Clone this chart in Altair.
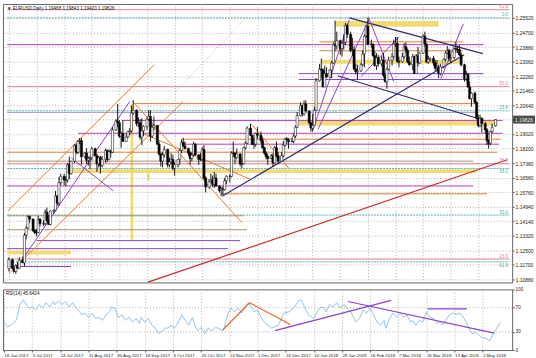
import altair as alt
import pandas as pd

# ---------------- candle data: price = 1 + v/10000 ----------------
jun_o = [1148,1198,1150,1132,1165,1150,1195,1180,1335,1375,1440]
jun_h = [1212,1206,1162,1172,1186,1212,1216,1348,1388,1446,1446]
jun_l = [1132,1145,1131,1119,1149,1148,1180,1162,1312,1370,1405]
jun_c = [1198,1150,1132,1165,1150,1195,1180,1335,1375,1440,1425]

jul_o = [1425,1360,1350,1350,1425,1400,1400,1465,1415,1395,1470,1475,1555,1515,1630,1665,1645,1645,1730,1680,1750]
jul_h = [1430,1368,1370,1444,1430,1420,1480,1490,1450,1475,1480,1583,1560,1660,1680,1680,1665,1740,1775,1750,1845]
jul_l = [1355,1340,1330,1345,1385,1386,1390,1412,1393,1390,1455,1470,1500,1500,1615,1615,1610,1630,1650,1675,1740]
jul_c = [1360,1350,1350,1425,1400,1400,1465,1415,1395,1470,1475,1555,1515,1630,1665,1645,1645,1730,1680,1750,1840]

aug_o = [1840,1800,1860,1865,1775,1795,1755,1765,1770,1820,1780,1735,1770,1725,1760,1810,1760,1805,1800,1925,1975,1965,1890]
aug_h = [1848,1870,1880,1880,1800,1823,1775,1780,1830,1825,1790,1780,1780,1780,1820,1815,1815,1815,1940,1985,2070,1980,1915]
aug_l = [1790,1790,1845,1730,1765,1735,1725,1705,1755,1775,1690,1715,1680,1715,1740,1745,1755,1770,1795,1920,1940,1880,1825]
aug_c = [1800,1860,1865,1775,1795,1755,1765,1770,1820,1780,1735,1770,1725,1760,1810,1760,1805,1800,1925,1975,1965,1890,1905]

sep_o = [1905,1860,1885,1915,1920,2020,2035,1960,1965,1885,1920,1945,1985,2000,1890,1940,1950,1845,1790,1750,1785]
sep_h = [1980,1905,1920,1935,2060,2092,2040,1995,1985,1990,1950,1995,2035,2035,1955,2000,1950,1860,1795,1800,1835]
sep_l = [1860,1860,1880,1895,1910,2010,1945,1940,1870,1840,1890,1925,1975,1860,1880,1925,1840,1780,1720,1715,1770]
sep_c = [1860,1885,1915,1920,2020,2035,1960,1965,1885,1920,1945,1985,2000,1890,1940,1950,1845,1790,1750,1785,1815]

oct_o = [1815,1730,1745,1760,1710,1730,1760,1810,1855,1835,1820,1795,1765,1785,1845,1785,1760,1760,1815,1655,1605,1635]
oct_h = [1820,1770,1795,1785,1745,1760,1820,1870,1880,1860,1825,1805,1800,1860,1850,1790,1795,1830,1840,1665,1650,1680]
oct_l = [1715,1715,1735,1700,1670,1715,1730,1795,1830,1815,1780,1730,1750,1775,1780,1730,1750,1750,1645,1575,1595,1630]
oct_c = [1730,1745,1760,1710,1730,1760,1810,1855,1835,1820,1795,1765,1785,1845,1785,1760,1760,1815,1655,1605,1635,1645]

nov_o = [1645,1620,1655,1610,1585,1595,1590,1640,1665,1665,1795,1795,1770,1790,1735,1735,1825,1850,1935,1895,1845,1845]
nov_h = [1670,1690,1680,1615,1605,1610,1655,1670,1675,1805,1860,1800,1820,1795,1765,1830,1860,1945,1960,1895,1880,1910]
nov_l = [1605,1600,1610,1575,1553,1560,1585,1620,1630,1660,1775,1735,1760,1720,1710,1730,1815,1845,1890,1840,1820,1830]
nov_c = [1620,1655,1610,1585,1595,1590,1640,1665,1665,1795,1795,1770,1790,1735,1735,1825,1850,1935,1895,1845,1845,1905]

dec_o = [1905,1895,1865,1825,1795,1775,1765,1780,1740,1825,1780,1750,1780,1840,1875,1870,1860,1860,1890,1940]
dec_h = [1940,1915,1880,1830,1805,1790,1790,1795,1835,1860,1800,1800,1860,1880,1885,1880,1880,1905,1950,2025]
dec_l = [1875,1850,1820,1785,1760,1730,1760,1720,1735,1770,1735,1750,1770,1830,1845,1820,1855,1850,1880,1935]
dec_c = [1895,1865,1825,1795,1775,1765,1780,1740,1825,1780,1750,1780,1840,1875,1870,1860,1860,1890,1940,2005]

jan_o = [2005,2060,2015,2070,2030,1965,1935,1950,2035,2200,2265,2260,2165,2240,2220,2260,2300,2405,2395,2425,2380,2410]
jan_h = [2080,2065,2090,2090,2035,1970,2015,2055,2215,2295,2325,2270,2285,2275,2265,2310,2415,2537,2475,2430,2415,2460]
jan_l = [2000,2000,2005,2025,1955,1915,1915,1950,2030,2195,2215,2165,2165,2220,2220,2215,2295,2365,2375,2345,2335,2375]
jan_c = [2060,2015,2070,2030,1965,1935,1950,2035,2200,2265,2260,2165,2240,2220,2260,2300,2405,2395,2425,2380,2410,2415]

feb_o = [2415,2510,2460,2370,2375,2265,2250,2255,2290,2350,2450,2505,2405,2405,2340,2285,2330,2295,2315,2230]
feb_h = [2523,2520,2475,2440,2395,2295,2290,2300,2370,2460,2510,2555,2430,2410,2365,2355,2345,2340,2355,2245]
feb_l = [2400,2440,2360,2340,2260,2235,2205,2250,2280,2275,2440,2400,2385,2335,2280,2260,2280,2280,2220,2190]
feb_c = [2510,2460,2370,2375,2265,2250,2255,2290,2350,2450,2505,2405,2405,2340,2285,2330,2295,2315,2230,2195]

mar_o = [2195,2265,2315,2335,2405,2410,2310,2305,2335,2390,2370,2305,2290,2335,2240,2340,2300,2355,2450,2405,2305,2320]
mar_h = [2275,2335,2355,2430,2445,2445,2335,2355,2410,2415,2380,2335,2350,2340,2350,2390,2360,2460,2475,2410,2340,2330]
mar_l = [2155,2260,2285,2320,2390,2300,2275,2300,2320,2355,2300,2285,2260,2240,2240,2280,2295,2350,2390,2300,2295,2305]
mar_c = [2265,2315,2335,2405,2410,2310,2305,2335,2390,2370,2305,2290,2335,2240,2340,2300,2355,2450,2405,2305,2320,2325]

apr_o = [2325,2300,2270,2275,2240,2280,2320,2355,2370,2325,2330,2380,2375,2375,2345,2290,2210,2235,2165,2100,2130]
apr_h = [2340,2315,2315,2290,2295,2325,2365,2395,2380,2345,2385,2415,2395,2400,2360,2295,2255,2245,2195,2135,2140]
apr_l = [2285,2255,2255,2215,2230,2270,2310,2350,2310,2300,2320,2355,2355,2340,2280,2195,2200,2160,2095,2055,2070]
apr_c = [2300,2270,2275,2240,2280,2320,2355,2370,2325,2330,2380,2375,2375,2345,2290,2210,2235,2165,2100,2130,2080]

may_o = [2080,1990,1950,1990,1960,1925,1865,1850,1915,1947]
may_h = [2085,2010,2010,1995,1970,1935,1870,1920,1960,1984]
may_l = [1985,1940,1940,1910,1905,1840,1820,1840,1905,1942]
may_c = [1990,1950,1990,1960,1925,1865,1850,1915,1940,1983]

# RSI(14) readings (bar number, value)
rsi_bar = [0,2,4,7,9,11,12,14,16,18,20,22,24,26,28,29,31,33,35,37,39,41,43,44,46,48,50,52,54,56,58,60,61,63,65,67,
           69,71,73,75,77,78,80,82,84,86,88,90,92,93,95,97,99,101,103,105,107,109,110,112,114,116,118,120,122,124,125,
           127,129,131,133,135,137,139,141,142,144,146,148,150,
           152,156,159,162,165,167,169,171,173,176,178,180,182,183,185,187,189,191,193,195,197,199,200,202,204,206,208,
           210,212,214,216,217,219,221,223,225,227,229,231,232,234,236,238,240,242,244,246,248,249,251,253,255,257,259,
           261,263,264,266,268,270,272,274,276,278,280,282]
rsi_val = [46,38,41,49,75,83,78,69,71,66,75,69,78,71,80,75,81,75,80,71,78,69,63,58,61,54,61,52,54,49,58,63,71,69,54,58,
           49,54,46,52,44,54,46,52,41,36,27,32,37,36,41,36,46,58,49,41,54,37,32,37,27,36,32,37,36,32,36,
           58,69,63,69,61,71,78,69,63,66,54,46,41,
           36,41,61,63,71,80,83,69,58,52,63,71,69,63,75,71,78,69,75,69,63,52,46,52,66,61,69,
           58,46,41,49,36,52,61,54,61,54,58,46,49,41,49,46,63,54,52,44,46,41,49,58,61,58,
           61,54,44,36,27,29,24,20,19,15,27,36,45.6]

# date labels of the time axis
date_labels = ["16 Jun 2017","5 Jul 2017","24 Jul 2017","11 Aug 2017","30 Aug 2017","18 Sep 2017","6 Oct 2017",
               "25 Oct 2017","13 Nov 2017","1 Dec 2017","20 Dec 2017","10 Jan 2018","29 Jan 2018","16 Feb 2018",
               "7 Mar 2018","26 Mar 2018","13 Apr 2018","2 May 2018"]
price_ticks = [1.2552,1.2470,1.2388,1.2306,1.2226,1.2146,1.2064,1.1982,1.1902,1.1820,1.1738,1.1658,1.1576,
               1.1494,1.1414,1.1332,1.1250,1.1170,1.1088]
last_price = 1.19826

# Fibonacci levels
fib_pink = [1.2598, 1.2167, 1.1735, 1.1202]
fib_pink_txt = ["61.8", "50.0", "38.2", "23.6"]
fib_teal_up = [1.2552, 1.2032, 1.1448]
fib_teal_up_txt = ["0.0", "23.6", "50.0"]
fib_teal_dn = [1.1709, 1.1186]
fib_teal_dn_txt = ["38.2", "61.8"]

# horizontal levels: price, first bar, last bar
magenta_p  = [1.2402, 1.1978, 1.1906, 1.1845, 1.1611]
magenta_b0 = [-1, 66, 40, 100, -1]
magenta_b1 = [275, 286, 286, 284, 269]
purple_p  = [1.2240, 1.2207, 1.1305, 1.1260, 1.1160]
purple_b0 = [168, 168, 16, -1, -1]
purple_b1 = [275, 267, 134, 127, 36]
orange_p  = [1.2072, 1.2418, 1.2368, 1.1873, 1.1800, 1.1567]
orange_b0 = [73, 180, 180, 100, -1, 123]
orange_b1 = [271, 263, 263, 285, 283, 277]
tan_p  = [1.1750, 1.1444, 1.1366]
tan_b0 = [-1, -1, -1]
tan_b1 = [269, 136, 138]
blue_p  = [1.2023]
blue_b0 = [-1]
blue_b1 = [272]

# yellow zones: bar range, price range
zone_b0 = [189, 181, 168, 34, -1, 70.5, 80]
zone_b1 = [249, 262, 283, 271, 36, 72, 81.5]
zone_p0 = [1.2535, 1.2318, 1.1977, 1.1705, 1.1249, 1.2070, 1.1700]
zone_p1 = [1.2502, 1.2296, 1.1949, 1.1683, 1.1227, 1.1310, 1.1640]

# trend lines: (bar, price) -> (bar, price)
tl_orange = [(-0.6, 1.1472, 84.2, 1.2290), (0, 1.1121, 101, 1.2084), (71.8, 1.2084, 135, 1.1405),
             (77.4, 1.1906, 139.5, 1.1650), (140.7, 1.1956, 162.1, 1.1711)]
tl_purple = [(2.3, 1.1121, 70, 1.2084), (36.2, 1.1767, 60.5, 1.1583), (176.3, 1.1928, 197.2, 1.2541),
             (179.1, 1.1928, 208.5, 1.2541), (208.5, 1.2552, 223, 1.2196), (204, 1.2224, 226, 1.2446),
             (250.3, 1.2212, 263.3, 1.2519)]
tl_navy = [(123.7, 1.1555, 263.8, 1.2346), (197.2, 1.2552, 274.6, 1.2352), (190.4, 1.2228, 275.1, 1.1979)]
tl_red = [(80.2, 1.1071, 288.7, 1.1758)]
tl_dotted = [(71.8, 1.1889, 136.7, 1.2546)]

# RSI trend lines (bar, rsi) -> (bar, rsi)
rsi_orange = [(124.3, 33, 139.5, 78), (139.5, 78, 162.7, 42)]
rsi_purple = [(154, 32, 220, 82), (195.5, 80, 278.5, 28), (240.7, 68, 263, 68)]

# ---------------- tables ----------------
days = pd.date_range("2017-06-16", "2018-05-14", freq="D")
skip = {pd.Timestamp("2017-12-25"), pd.Timestamp("2018-01-01")}
cal = [d for d in days if d.weekday() != 5 and d not in skip]
bar_of = {d: i for i, d in enumerate(cal)}
trade_days = [d for d in cal if d.weekday() < 5]

O = jun_o+jul_o+aug_o+sep_o+oct_o+nov_o+dec_o+jan_o+feb_o+mar_o+apr_o+may_o
H = jun_h+jul_h+aug_h+sep_h+oct_h+nov_h+dec_h+jan_h+feb_h+mar_h+apr_h+may_h
L = jun_l+jul_l+aug_l+sep_l+oct_l+nov_l+dec_l+jan_l+feb_l+mar_l+apr_l+may_l
C = jun_c+jul_c+aug_c+sep_c+oct_c+nov_c+dec_c+jan_c+feb_c+mar_c+apr_c+may_c
n = min(len(trade_days), len(C))
candles = pd.DataFrame({
    "bar": [bar_of[d] for d in trade_days[:n]],
    "o": [1 + v / 10000 for v in O[:n]],
    "h": [1 + v / 10000 for v in H[:n]],
    "l": [1 + v / 10000 for v in L[:n]],
    "c": [1 + v / 10000 for v in C[:n]],
})
label_dates = [pd.Timestamp(s) for s in date_labels]
label_bars = [bar_of[d] for d in label_dates]
expr = "''"
for b, s in reversed(list(zip(label_bars, date_labels))):
    expr = f"datum.value == {b} ? '{s}' : ({expr})"

W, HM, HR = 512, 280, 61
FONT = "Liberation Sans"
xs = alt.Scale(domain=[-0.565, 288.7], nice=False, zero=False)
ys = alt.Scale(domain=[1.10709, 1.2630], nice=False, zero=False)
rs = alt.Scale(domain=[0, 100], nice=False, zero=False)

GRID = "#b4b4b4"
x_ax_main = alt.Axis(values=label_bars, labels=False, ticks=False, domain=False, grid=True,
                     gridColor=GRID, gridDash=[1, 2], title=None)
y_ax_main = alt.Axis(orient="right", values=price_ticks, format=".5f", labelFontSize=5, labelFont=FONT,
                     tickSize=2, labelPadding=1, grid=True, gridColor=GRID, gridDash=[1, 2], domain=False,
                     title=None, labelColor="#222222", tickColor="#555555")
x_ax_rsi = alt.Axis(values=label_bars, labelExpr=expr, labelAlign="left", labelOverlap=False, labelBound=False,
                    labelFontSize=4.4, labelFont=FONT, tickSize=2, labelPadding=1.5, grid=True, gridColor=GRID,
                    gridDash=[1, 2], domain=False, title=None, labelColor="#222222", tickColor="#555555",
                    labelFlush=False)
y_ax_rsi = alt.Axis(orient="right", values=[0, 30, 70, 100], labelFontSize=4.6, labelFont=FONT, tickSize=2,
                    labelPadding=1, grid=False, domain=False, title=None, labelColor="#222222",
                    tickColor="#555555")


def X(f):
    return alt.X(f, type="quantitative", scale=xs, axis=x_ax_main)


def Y(f):
    return alt.Y(f, type="quantitative", scale=ys, axis=y_ax_main)


def hlines(prices, b0, b1, color, width=1.0, dash=None):
    df = pd.DataFrame({"p": prices, "b0": b0, "b1": b1})
    kw = dict(color=color, strokeWidth=width, clip=True)
    if dash:
        kw["strokeDash"] = dash
    return alt.Chart(df).mark_rule(**kw).encode(x=X("b0"), x2="b1", y=Y("p"))


def tlines(rows, color, width=1.0, dash=None):
    df = pd.DataFrame(rows, columns=["b0", "p0", "b1", "p1"])
    kw = dict(color=color, strokeWidth=width, clip=True)
    if dash:
        kw["strokeDash"] = dash
    return alt.Chart(df).mark_rule(**kw).encode(x=X("b0"), x2="b1", y=Y("p0"), y2="p1")


def fib_text(prices, texts, color, baseline):
    df = pd.DataFrame({"p": prices, "t": texts})
    return alt.Chart(df).mark_text(align="right", baseline=baseline, fontSize=4.6, font=FONT, color=color,
                                   dy=(-0.5 if baseline == "bottom" else 0.8)).encode(
        x=alt.value(508), y=Y("p"), text="t:N")


fib_teal = fib_teal_up + fib_teal_dn
PINK, TEAL = "#e0809c", "#5aaeae"
layers = []
zones = pd.DataFrame({"b0": zone_b0, "b1": zone_b1, "p0": zone_p0, "p1": zone_p1})
layers.append(alt.Chart(zones).mark_rect(color="#f0d45c", opacity=0.85, clip=True)
              .encode(x=X("b0"), x2="b1", y=Y("p0"), y2="p1"))
layers.append(hlines(fib_pink, [-1] * len(fib_pink), [290] * len(fib_pink), PINK, 1.0))
layers.append(hlines(fib_teal, [-1] * len(fib_teal), [290] * len(fib_teal), TEAL, 1.0, [2, 1]))
layers.append(hlines(tan_p, tan_b0, tan_b1, "#a89070", 1.0))
layers.append(hlines(blue_p, blue_b0, blue_b1, "#9a9ac8", 1.0))
layers.append(hlines(orange_p, orange_b0, orange_b1, "#e87a30", 1.0))
layers.append(hlines(magenta_p, magenta_b0, magenta_b1, "#b83cae", 1.0))
layers.append(hlines(purple_p, purple_b0, purple_b1, "#8a44cc", 1.0))
layers.append(tlines(tl_dotted, "#b0a0a0", 0.8, [1, 2]))
layers.append(tlines(tl_orange, "#e87a30", 1.0))
layers.append(tlines(tl_red, "#cc2b2b", 1.2))
layers.append(tlines(tl_navy, "#2c2c78", 1.2))
layers.append(tlines(tl_purple, "#8a44cc", 1.0))

base = alt.Chart(candles)
layers.append(base.mark_rule(color="black", strokeWidth=0.9).encode(x=X("bar"), y=Y("l"), y2="h"))
layers.append(base.mark_bar(size=2.2, stroke="black", strokeWidth=0.5).encode(
    x=X("bar"), y=Y("o"), y2="c",
    fill=alt.condition("datum.c >= datum.o", alt.value("white"), alt.value("black"))))

layers.append(fib_text(fib_pink, fib_pink_txt, PINK, "bottom"))
layers.append(fib_text(fib_teal_up, fib_teal_up_txt, TEAL, "bottom"))
layers.append(fib_text(fib_teal_dn, fib_teal_dn_txt, TEAL, "top"))

lp = pd.DataFrame({"p": [last_price], "t": ["1.19826"]})
layers.append(alt.Chart(lp).mark_tick(orient="horizontal", thickness=8, size=22, color="black")
              .encode(x=alt.value(524), y=Y("p")))
layers.append(alt.Chart(lp).mark_text(align="left", baseline="middle", fontSize=5, font=FONT, color="white")
              .encode(x=alt.value(515), y=Y("p"), text="t:N"))
hdr = pd.DataFrame({"t": ["\u25bc EURUSD,Daily  1.19468 1.19843 1.19420 1.19826"]})
layers.append(alt.Chart(hdr).mark_text(align="left", baseline="middle", fontSize=4.6, font=FONT, color="#111111")
              .encode(x=alt.value(4), y=alt.value(5), text="t:N"))

main = alt.layer(*layers).properties(width=W, height=HM)

# ---------------- RSI panel ----------------
rsi_df = pd.DataFrame({"bar": rsi_bar, "v": rsi_val})


def XR(f):
    return alt.X(f, type="quantitative", scale=xs, axis=x_ax_rsi)


def YR(f):
    return alt.Y(f, type="quantitative", scale=rs, axis=y_ax_rsi)


def rlines(rows, color):
    df = pd.DataFrame(rows, columns=["b0", "v0", "b1", "v1"])
    return alt.Chart(df).mark_rule(color=color, strokeWidth=1.2, clip=True).encode(
        x=XR("b0"), x2="b1", y=YR("v0"), y2="v1")


lv = pd.DataFrame({"v": [30, 70]})
rsi_layers = [
    alt.Chart(lv).mark_rule(color=GRID, strokeDash=[1, 2]).encode(y=YR("v")),
    alt.Chart(rsi_df).mark_line(color="#7ab3dc", strokeWidth=0.8, clip=True).encode(x=XR("bar"), y=YR("v")),
    rlines(rsi_orange, "#e06a2a"),
    rlines(rsi_purple, "#8a44cc"),
    alt.Chart(pd.DataFrame({"t": ["RSI(14) 45.6424"]})).mark_text(
        align="left", baseline="middle", fontSize=4.6, font=FONT, color="#111111").encode(
        x=alt.value(3), y=alt.value(5), text="t:N"),
]
rsi = alt.layer(*rsi_layers).properties(width=W, height=HR)

chart = (alt.vconcat(main, rsi, spacing=2)
         .properties(padding={"left": 2, "top": 2, "right": 0, "bottom": 0}, background="white")
         .configure_view(stroke="#666666", strokeWidth=1))

chart.save("out.html", embed_options={"renderer": "svg", "actions": False})
